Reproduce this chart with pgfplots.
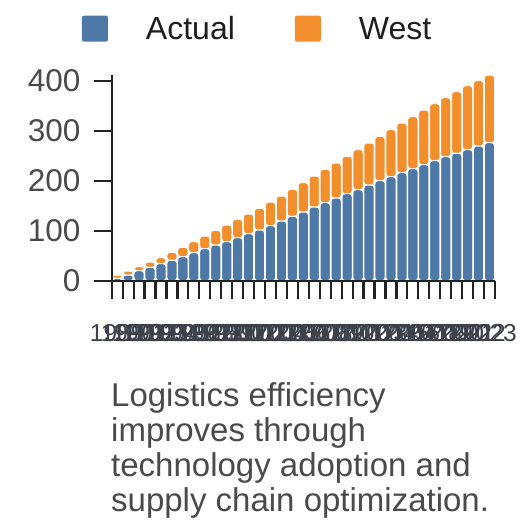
\documentclass[border=0pt]{standalone}
\usepackage{pgfplots}
\pgfplotsset{compat=1.18}
\usepackage{fontspec}
\setmainfont{Liberation Sans}
\definecolor{cblue}{HTML}{4E79A7}
\definecolor{corange}{HTML}{F28E2B}
\definecolor{axisc}{HTML}{222222}
\definecolor{txt}{HTML}{4A4A4A}
\definecolor{xtxt}{HTML}{3C4048}
\definecolor{legtxt}{HTML}{1E1E1E}
\pgfplotstableread{
x actual west
1 4.7 6.6
2 11.3 8.0
3 20.0 8.0
4 26.7 10.6
5 34.0 12.0
6 40.7 16.0
7 48.0 18.7
8 56.0 22.0
9 64.0 25.3
10 71.3 29.4
11 78.0 33.3
12 86.0 36.7
13 94.0 39.3
14 101.3 43.4
15 110.0 47.3
16 119.3 50.0
17 128.7 54.0
18 137.3 58.7
19 147.3 62.0
20 156.0 66.7
21 165.3 70.0
22 174.0 74.7
23 182.0 80.0
24 191.3 84.0
25 200.0 88.7
26 208.0 94.0
27 216.0 99.3
28 224.0 104.0
29 232.0 109.3
30 240.0 114.0
31 248.0 118.0
32 254.7 123.3
33 262.0 128.0
34 269.3 130.7
35 276.0 135.3
}\datatable
\begin{document}
\begin{tikzpicture}
\useasboundingbox (0,0) rectangle (528pt,-528pt);
\begin{axis}[
  at={(111.7pt,-280.7pt)}, anchor=south west,
  scale only axis, width=383.3pt, height=205.7pt,
  xmin=0.5, xmax=35.5, ymin=0, ymax=411.4,
  ybar stacked, bar width=10.2pt,
  axis on top,
  axis x line*=bottom, axis y line*=left,
  axis line style={axisc, line width=2.2pt, -},
  tick align=outside, major tick length=18pt,
  tick style={axisc, line width=2.2pt},
  ytick={0,100,200,300,400},
  xtick={0.5,1.5,...,35.5},
  x tick label as interval,
  xticklabels={1989,1990,1991,1992,1993,1994,1995,1996,1997,1998,1999,2000,2001,2002,2003,2004,2005,2006,2007,2008,2009,2010,2011,2012,2013,2014,2015,2016,2017,2018,2019,2020,2021,2022,2023},
  /pgf/number format/assume math mode=true,
  yticklabel style={font=\fontsize{31.5}{37}\selectfont, text=txt, inner sep=0pt, xshift=-13pt},
  xticklabel style={font=\fontsize{24.5}{28}\selectfont, text=xtxt, inner sep=0pt, yshift=-25pt},
  legend image code/.code={\fill[#1, draw=none, rounded corners=2pt] (0pt,-12.6pt) rectangle (26pt,13.4pt);},
  legend style={at={(-0.0775,1.2252)}, anchor=west, draw=none, fill=none,
    inner sep=0pt, outer sep=0pt, legend columns=2,
    font=\fontsize{32}{38}\selectfont, text=legtxt,
    nodes={inner sep=0pt},
    /tikz/every odd column/.append style={column sep=38pt},
    /tikz/every even column/.append style={column sep=60pt}},
  legend cell align=left,
]
\addplot+[fill=cblue, draw=white, line width=0.9pt, rounded corners=3pt] table[x=x, y=actual] {\datatable};
\addplot+[fill=corange, draw=white, line width=0.9pt, rounded corners=3pt] table[x=x, y=west] {\datatable};
\legend{Actual, West}
\end{axis}
\node[anchor=north west, inner sep=0pt, text=txt, font=\fontsize{33}{35}\selectfont, align=left] at (111pt,-382pt) {Logistics efficiency\\improves through\\technology adoption and\\supply chain optimization.};
\end{tikzpicture}
\end{document}
